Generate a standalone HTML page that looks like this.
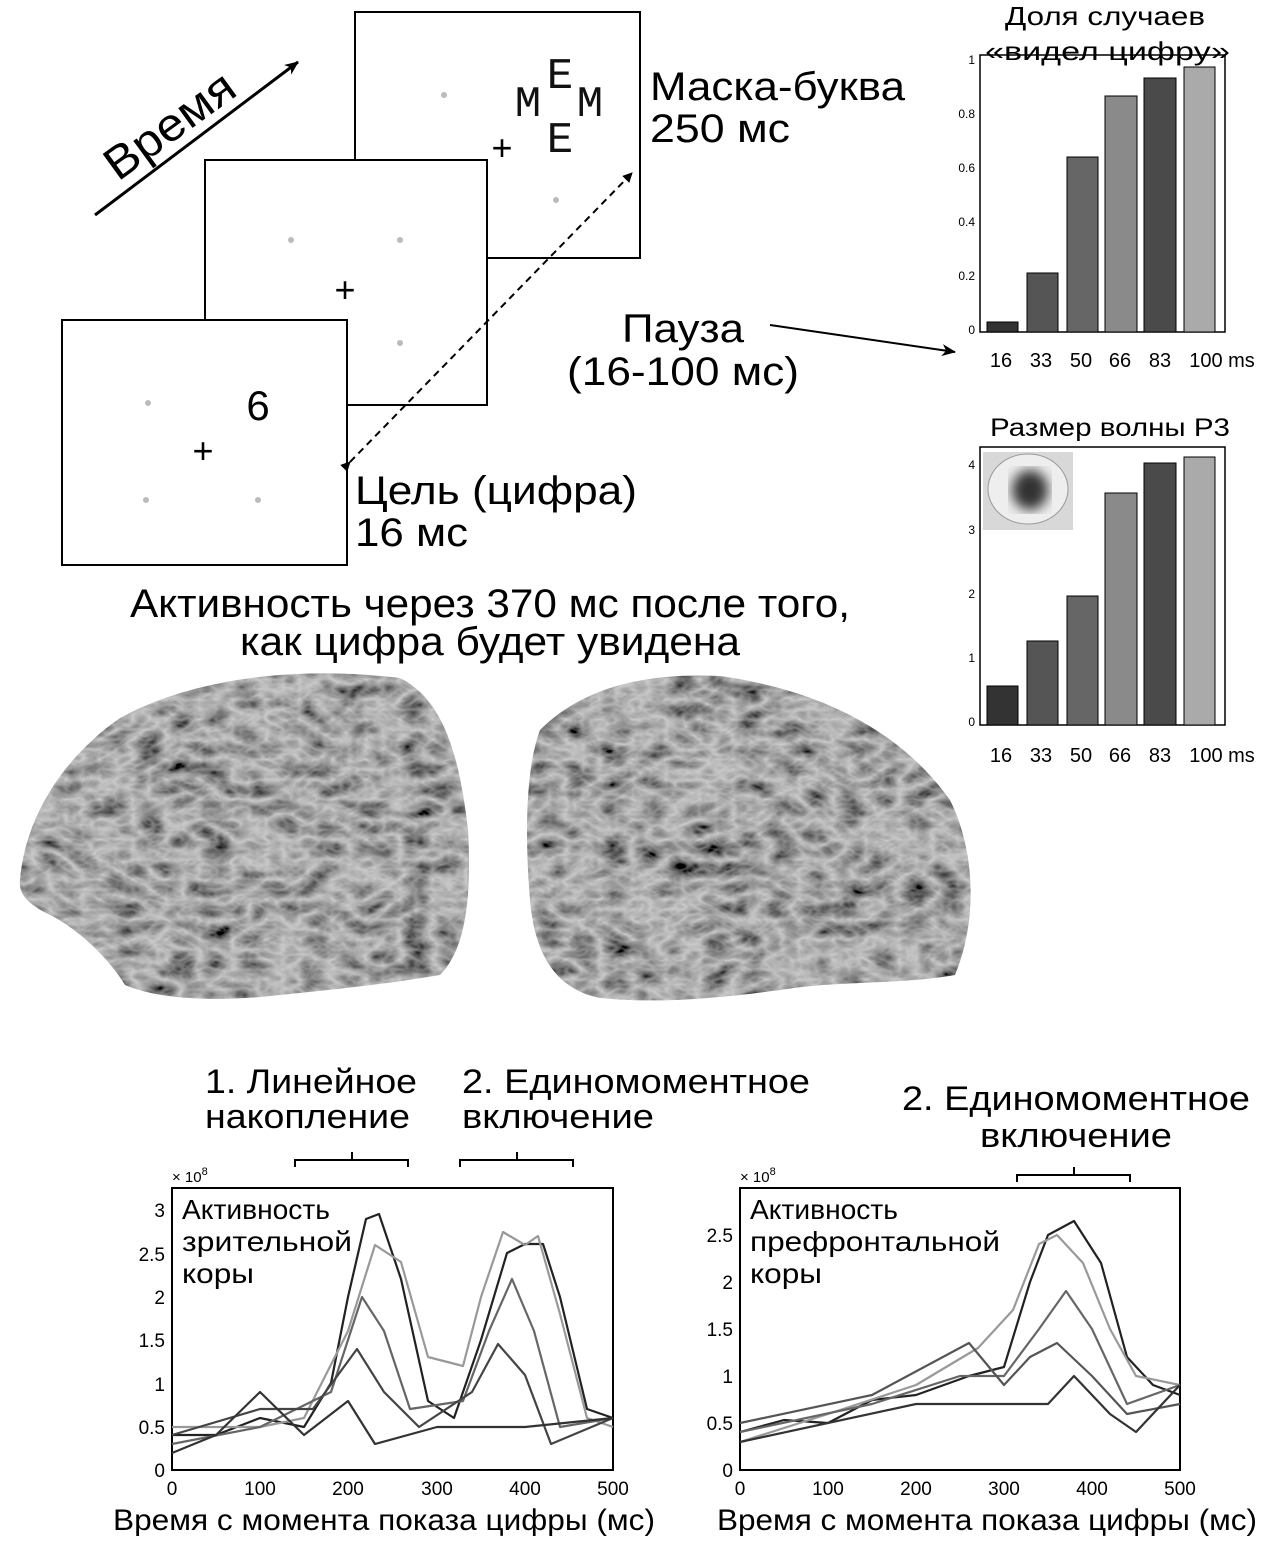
<!DOCTYPE html>
<html><head><meta charset="utf-8"><style>
body{margin:0;background:#fff;}
svg{display:block;font-family:"Liberation Sans","DejaVu Sans",sans-serif;}
</style></head><body>
<svg width="1286" height="1555" viewBox="0 0 1286 1555" xmlns="http://www.w3.org/2000/svg">
<defs>
<marker id="ah" markerWidth="10" markerHeight="10" refX="9" refY="5" orient="auto" markerUnits="userSpaceOnUse"><path d="M0,0 L10,5 L0,10 z" fill="#000"/></marker>
<marker id="ah2" markerWidth="14" markerHeight="12" refX="13" refY="6" orient="auto" markerUnits="userSpaceOnUse"><path d="M0,0 L14,6 L0,12 L4,6 z" fill="#000"/></marker>
<filter id="tex" x="0" y="0" width="100%" height="100%">
<feTurbulence type="turbulence" baseFrequency="0.03 0.05" numOctaves="3" seed="5" result="n"/>
<feColorMatrix in="n" type="matrix" values="-0.8 0 0 0 0.6  -0.8 0 0 0 0.6  -0.8 0 0 0 0.6  0 0 0 0 1" result="g"/>
<feComposite in="g" in2="SourceGraphic" operator="in"/>
</filter>
<filter id="blur"><feGaussianBlur stdDeviation="6"/></filter>
</defs>

<line x1="95" y1="215" x2="298" y2="62" stroke="#000" stroke-width="3" marker-end="url(#ah2)"/>
<text x="0" y="0" font-size="46" textLength="150" lengthAdjust="spacingAndGlyphs" transform="translate(118,182) rotate(-36)">Время</text>

<rect x="355" y="12" width="285" height="246" fill="#fff" stroke="#000" stroke-width="2"/>
<circle cx="444" cy="95" r="3" fill="#bbb"/><circle cx="556" cy="200" r="3" fill="#bbb"/>
<text x="502" y="160" font-size="36" text-anchor="middle">+</text>
<g font-family="Liberation Mono,'DejaVu Sans Mono',monospace" font-size="44" text-anchor="middle" fill="#111">
<text x="560" y="88">E</text><text x="528" y="116">M</text><text x="590" y="116">M</text><text x="560" y="152">E</text></g>

<rect x="205" y="160" width="282" height="245" fill="#fff" stroke="#000" stroke-width="2"/>
<circle cx="291" cy="240" r="3" fill="#bbb"/><circle cx="400" cy="240" r="3" fill="#bbb"/><circle cx="400" cy="343" r="3" fill="#bbb"/>
<text x="345" y="302" font-size="36" text-anchor="middle">+</text>

<rect x="62" y="320" width="285" height="245" fill="#fff" stroke="#000" stroke-width="2"/>
<circle cx="148" cy="403" r="3" fill="#bbb"/><circle cx="146" cy="500" r="3" fill="#bbb"/><circle cx="258" cy="500" r="3" fill="#bbb"/>
<text x="203" y="463" font-size="36" text-anchor="middle">+</text>
<text x="258" y="420" font-size="42" text-anchor="middle">6</text>

<line x1="350" y1="462" x2="632" y2="173" stroke="#000" stroke-width="2" stroke-dasharray="7,5" marker-end="url(#ah)" marker-start="url(#ah)"/>

<g font-size="40">
<text x="650" y="100" textLength="255" lengthAdjust="spacingAndGlyphs">Маска-буква</text>
<text x="650" y="142" textLength="140" lengthAdjust="spacingAndGlyphs">250 мс</text>
<text x="622" y="342" textLength="122" lengthAdjust="spacingAndGlyphs">Пауза</text>
<text x="567" y="385" textLength="232" lengthAdjust="spacingAndGlyphs">(16-100 мс)</text>
<text x="355" y="504" textLength="282" lengthAdjust="spacingAndGlyphs">Цель (цифра)</text>
<text x="355" y="546" textLength="113" lengthAdjust="spacingAndGlyphs">16 мс</text>
<text x="130" y="617" textLength="720" lengthAdjust="spacingAndGlyphs">Активность через 370 мс после того,</text>
<text x="240" y="655" textLength="500" lengthAdjust="spacingAndGlyphs">как цифра будет увидена</text>
</g>
<line x1="770" y1="325" x2="955" y2="352" stroke="#000" stroke-width="2" marker-end="url(#ah2)"/>

<g font-size="26"><text x="1005" y="25" textLength="200" lengthAdjust="spacingAndGlyphs">Доля случаев</text><text x="985" y="60" textLength="245" lengthAdjust="spacingAndGlyphs">«видел цифру»</text></g>
<rect x="980" y="55" width="245" height="277" fill="none" stroke="#000" stroke-width="1.5"/>
<g font-size="12" text-anchor="end">
<text x="975" y="64">1</text><text x="975" y="118">0.8</text><text x="975" y="172">0.6</text><text x="975" y="226">0.4</text><text x="975" y="280">0.2</text><text x="975" y="334">0</text></g>
<g stroke="#000" stroke-width="1">
<rect x="987" y="322" width="31" height="10" fill="#333"/>
<rect x="1027" y="273" width="31" height="59" fill="#555"/>
<rect x="1067" y="157" width="31" height="175" fill="#666"/>
<rect x="1105" y="96" width="32" height="236" fill="#8a8a8a"/>
<rect x="1144" y="78" width="32" height="254" fill="#4a4a4a"/>
<rect x="1184" y="67" width="31" height="265" fill="#aaa"/></g>
<g font-size="20" text-anchor="middle"><text x="1001" y="367">16</text><text x="1041" y="367">33</text><text x="1081" y="367">50</text><text x="1120" y="367">66</text><text x="1160" y="367">83</text><text x="1222" y="367">100 ms</text></g>

<text x="990" y="436" font-size="25" textLength="240" lengthAdjust="spacingAndGlyphs">Размер волны Р3</text>
<rect x="980" y="447" width="245" height="278" fill="none" stroke="#000" stroke-width="1.5"/>
<g font-size="12" text-anchor="end"><text x="975" y="469">4</text><text x="975" y="534">3</text><text x="975" y="598">2</text><text x="975" y="662">1</text><text x="975" y="726">0</text></g>
<g stroke="#000" stroke-width="1">
<rect x="987" y="686" width="31" height="39" fill="#333"/>
<rect x="1027" y="641" width="31" height="84" fill="#555"/>
<rect x="1067" y="596" width="31" height="129" fill="#666"/>
<rect x="1105" y="493" width="32" height="232" fill="#8a8a8a"/>
<rect x="1144" y="463" width="32" height="262" fill="#4a4a4a"/>
<rect x="1184" y="457" width="31" height="268" fill="#aaa"/></g>
<rect x="983" y="452" width="90" height="78" fill="#d8d8d8"/>
<ellipse cx="1028" cy="489" rx="40" ry="35" fill="#eee" stroke="#999"/>
<ellipse cx="1030" cy="490" rx="18" ry="20" fill="#333" filter="url(#blur)"/>
<g font-size="20" text-anchor="middle"><text x="1001" y="762">16</text><text x="1041" y="762">33</text><text x="1081" y="762">50</text><text x="1120" y="762">66</text><text x="1160" y="762">83</text><text x="1222" y="762">100 ms</text></g>

<path d="M20,880 C25,820 60,760 120,718 C190,680 290,665 400,678 C445,700 460,760 468,830 C472,900 465,950 440,975 C380,985 330,990 280,995 C220,1002 160,1000 125,985 C110,960 80,930 50,915 C30,905 18,895 20,880 Z" fill="#888" filter="url(#tex)"/>
<path d="M540,730 C580,690 640,672 720,676 C820,690 900,730 950,800 C975,850 978,920 955,975 C900,985 840,980 780,990 C720,998 660,1004 600,998 C560,990 535,960 530,900 C525,840 525,770 540,730 Z" fill="#888" filter="url(#tex)"/>

<g font-size="34">
<text x="205" y="1093" textLength="212" lengthAdjust="spacingAndGlyphs">1. Линейное</text>
<text x="205" y="1128" textLength="205" lengthAdjust="spacingAndGlyphs">накопление</text>
<text x="462" y="1093" textLength="348" lengthAdjust="spacingAndGlyphs">2. Единомоментное</text>
<text x="462" y="1128" textLength="192" lengthAdjust="spacingAndGlyphs">включение</text>
<text x="902" y="1110" textLength="348" lengthAdjust="spacingAndGlyphs">2. Единомоментное</text>
<text x="980" y="1147" textLength="192" lengthAdjust="spacingAndGlyphs">включение</text>
</g>
<g fill="none" stroke="#000" stroke-width="2">
<path d="M295,1167 V1160 H408 V1167 M352,1160 V1152"/>
<path d="M460,1167 V1160 H573 V1167 M517,1160 V1152"/>
<path d="M1017,1182 V1175 H1130 V1182 M1074,1175 V1167"/>
</g>

<text x="172" y="1182" font-size="15">× 10<tspan dy="-7" font-size="11">8</tspan></text>
<rect x="172" y="1188" width="441" height="282" fill="none" stroke="#000" stroke-width="2"/>
<g font-size="19" text-anchor="end">
<text x="165" y="1477">0</text><text x="165" y="1434">0.5</text><text x="165" y="1391">1</text><text x="165" y="1347">1.5</text><text x="165" y="1304">2</text><text x="165" y="1261">2.5</text><text x="165" y="1217">3</text></g>
<g font-size="19" text-anchor="middle">
<text x="172" y="1495">0</text><text x="260" y="1495">100</text><text x="348" y="1495">200</text><text x="437" y="1495">300</text><text x="525" y="1495">400</text><text x="613" y="1495">500</text></g>
<g font-size="28"><text x="182" y="1219" textLength="148" lengthAdjust="spacingAndGlyphs">Активность</text><text x="182" y="1251" textLength="170" lengthAdjust="spacingAndGlyphs">зрительной</text><text x="182" y="1283" textLength="72" lengthAdjust="spacingAndGlyphs">коры</text></g>
<g fill="none" stroke-width="2.2" stroke-linejoin="round">
<polyline stroke="#222" points="172,1435 216,1435 260,1418 304,1427 331,1383 348,1297 366,1219 379,1214 401,1279 428,1401 454,1418 481,1340 507,1253 525,1244 543,1244 560,1297 587,1409 613,1418"/>
<polyline stroke="#999" points="172,1427 260,1427 304,1418 348,1331 375,1245 401,1262 428,1357 463,1366 481,1297 503,1232 525,1245 538,1236 560,1314 587,1418 613,1427"/>
<polyline stroke="#666" points="172,1444 260,1427 331,1392 362,1297 384,1331 410,1409 463,1401 489,1331 512,1279 534,1331 560,1427 613,1418"/>
<polyline stroke="#444" points="172,1435 260,1409 313,1409 357,1349 384,1392 419,1427 472,1392 498,1344 525,1375 551,1444 613,1418"/>
<polyline stroke="#333" points="172,1453 216,1435 260,1392 304,1435 348,1401 375,1444 437,1427 525,1427 613,1418"/>
</g>

<text x="740" y="1182" font-size="15">× 10<tspan dy="-7" font-size="11">8</tspan></text>
<rect x="740" y="1188" width="440" height="282" fill="none" stroke="#000" stroke-width="2"/>
<g font-size="19" text-anchor="end">
<text x="733" y="1477">0</text><text x="733" y="1430">0.5</text><text x="733" y="1383">1</text><text x="733" y="1336">1.5</text><text x="733" y="1289">2</text><text x="733" y="1242">2.5</text></g>
<g font-size="19" text-anchor="middle">
<text x="740" y="1495">0</text><text x="828" y="1495">100</text><text x="916" y="1495">200</text><text x="1004" y="1495">300</text><text x="1092" y="1495">400</text><text x="1180" y="1495">500</text></g>
<g font-size="28"><text x="750" y="1219" textLength="148" lengthAdjust="spacingAndGlyphs">Активность</text><text x="750" y="1251" textLength="250" lengthAdjust="spacingAndGlyphs">префронтальной</text><text x="750" y="1283" textLength="72" lengthAdjust="spacingAndGlyphs">коры</text></g>
<g fill="none" stroke-width="2.2" stroke-linejoin="round">
<polyline stroke="#222" points="740,1432 784,1420 828,1423 872,1400 916,1395 969,1376 1004,1367 1030,1282 1048,1235 1074,1221 1101,1263 1127,1357 1153,1385 1180,1395"/>
<polyline stroke="#999" points="740,1442 828,1414 916,1385 978,1348 1013,1310 1039,1244 1057,1235 1083,1263 1110,1329 1136,1376 1180,1385"/>
<polyline stroke="#666" points="740,1432 872,1404 960,1376 1004,1376 1039,1329 1066,1291 1092,1329 1127,1404 1180,1385"/>
<polyline stroke="#555" points="740,1423 872,1395 969,1343 1004,1385 1030,1357 1057,1343 1092,1376 1127,1414 1180,1404"/>
<polyline stroke="#333" points="740,1442 916,1404 1004,1404 1048,1404 1074,1376 1110,1414 1136,1432 1180,1385"/>
</g>

<g font-size="30">
<text x="113" y="1530" textLength="542" lengthAdjust="spacingAndGlyphs">Время с момента показа цифры (мс)</text>
<text x="717" y="1530" textLength="540" lengthAdjust="spacingAndGlyphs">Время с момента показа цифры (мс)</text></g>
</svg>
</body></html>
